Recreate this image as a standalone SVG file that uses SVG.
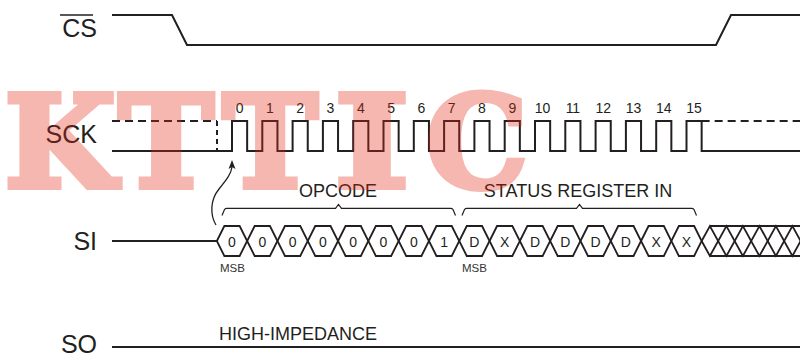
<svg xmlns="http://www.w3.org/2000/svg" width="800" height="354" viewBox="0 0 800 354">
<style>
.sig{fill:none;stroke:#231f20;stroke-width:2}
.dash{fill:none;stroke:#231f20;stroke-width:2;stroke-dasharray:8 5}
.hex{fill:none;stroke:#231f20;stroke-width:1.8;stroke-linejoin:miter}
.brace{fill:none;stroke:#231f20;stroke-width:1.2}
.lbl{font-family:"Liberation Sans",Arial,sans-serif;font-size:25px;fill:#231f20;text-anchor:end}
.num{font-family:"Liberation Sans",Arial,sans-serif;font-size:14px;fill:#231f20;text-anchor:middle}
.bit{font-family:"Liberation Sans",Arial,sans-serif;font-size:14px;fill:#231f20;text-anchor:middle}
.cap{font-family:"Liberation Sans",Arial,sans-serif;font-size:18px;fill:#231f20;text-anchor:middle}
.msb{font-family:"Liberation Sans",Arial,sans-serif;font-size:11.5px;fill:#333;text-anchor:middle}
.wm{font-family:"DejaVu Serif",serif;font-weight:bold;font-size:128px;fill:#e12814;stroke:#e12814;stroke-width:6;stroke-linejoin:miter;text-anchor:middle}
</style>
<rect width="800" height="354" fill="#fff"/>
<g id="labels">
<text class="lbl" x="97" y="37">CS</text>
<line x1="60" y1="15" x2="93" y2="15" stroke="#231f20" stroke-width="1.6"/>
<text class="lbl" x="97" y="143">SCK</text>
<text class="lbl" x="97" y="250">SI</text>
<text class="lbl" x="97" y="353">SO</text>
</g>
<g id="cs">
<path class="sig" d="M112 15 H172 L187 45 H716 L731 15 H800"/>
</g>
<g id="sck">
<path class="dash" d="M112 121 H217"/>
<path fill="none" stroke="#231f20" stroke-width="2" stroke-dasharray="5 4" d="M217 121 V151"/>
<path class="sig" d="M112 151 H232 V121 H247.15 V151 H262.3 V121 H277.45 V151 H292.6 V121 H307.75 V151 H322.9 V121 H338.05 V151 H353.2 V121 H368.35 V151 H383.5 V121 H398.65 V151 H413.8 V121 H428.95 V151 H444.1 V121 H459.25 V151 H474.4 V121 H489.55 V151 H504.7 V121 H519.85 V151 H535 V121 H550.15 V151 H565.3 V121 H580.45 V151 H595.6 V121 H610.75 V151 H625.9 V121 H641.05 V151 H656.2 V121 H671.35 V151 H686.5 V121 H701.65 V151 H800"/>
<path class="dash" d="M701.65 121 H800"/>
<text class="num" x="239.6" y="113">0</text>
<text class="num" x="269.9" y="113">1</text>
<text class="num" x="300.2" y="113">2</text>
<text class="num" x="330.5" y="113">3</text>
<text class="num" x="360.8" y="113">4</text>
<text class="num" x="391.1" y="113">5</text>
<text class="num" x="421.4" y="113">6</text>
<text class="num" x="451.7" y="113">7</text>
<text class="num" x="482" y="113">8</text>
<text class="num" x="512.3" y="113">9</text>
<text class="num" x="542.6" y="113">10</text>
<text class="num" x="572.9" y="113">11</text>
<text class="num" x="603.2" y="113">12</text>
<text class="num" x="633.5" y="113">13</text>
<text class="num" x="663.8" y="113">14</text>
<text class="num" x="694.1" y="113">15</text>
</g>
<g id="si">
<path class="sig" d="M112 241 H217"/>
<polygon class="hex" points="216.85,241 224.35,226 239.65,226 247.15,241 239.65,256 224.35,256"/>
<polygon class="hex" points="247.15,241 254.65,226 269.95,226 277.45,241 269.95,256 254.65,256"/>
<polygon class="hex" points="277.45,241 284.95,226 300.25,226 307.75,241 300.25,256 284.95,256"/>
<polygon class="hex" points="307.75,241 315.25,226 330.55,226 338.05,241 330.55,256 315.25,256"/>
<polygon class="hex" points="338.05,241 345.55,226 360.85,226 368.35,241 360.85,256 345.55,256"/>
<polygon class="hex" points="368.35,241 375.85,226 391.15,226 398.65,241 391.15,256 375.85,256"/>
<polygon class="hex" points="398.65,241 406.15,226 421.45,226 428.95,241 421.45,256 406.15,256"/>
<polygon class="hex" points="428.95,241 436.45,226 451.75,226 459.25,241 451.75,256 436.45,256"/>
<polygon class="hex" points="459.25,241 466.75,226 482.05,226 489.55,241 482.05,256 466.75,256"/>
<polygon class="hex" points="489.55,241 497.05,226 512.35,226 519.85,241 512.35,256 497.05,256"/>
<polygon class="hex" points="519.85,241 527.35,226 542.65,226 550.15,241 542.65,256 527.35,256"/>
<polygon class="hex" points="550.15,241 557.65,226 572.95,226 580.45,241 572.95,256 557.65,256"/>
<polygon class="hex" points="580.45,241 587.95,226 603.25,226 610.75,241 603.25,256 587.95,256"/>
<polygon class="hex" points="610.75,241 618.25,226 633.55,226 641.05,241 633.55,256 618.25,256"/>
<polygon class="hex" points="641.05,241 648.55,226 663.85,226 671.35,241 663.85,256 648.55,256"/>
<polygon class="hex" points="671.35,241 678.85,226 694.15,226 701.65,241 694.15,256 678.85,256"/>
<polyline class="hex" points="701.65,241 709.9,226 726.4,256 742.9,226 759.4,256 775.9,226 792.4,256 808.9,226"/>
<polyline class="hex" points="701.65,241 709.9,256 726.4,226 742.9,256 759.4,226 775.9,256 792.4,226 808.9,256"/>
<path class="hex" d="M709.9 226 H800 M709.9 256 H800"/>
<text class="bit" x="232" y="247">0</text>
<text class="bit" x="262.3" y="247">0</text>
<text class="bit" x="292.6" y="247">0</text>
<text class="bit" x="322.9" y="247">0</text>
<text class="bit" x="353.2" y="247">0</text>
<text class="bit" x="383.5" y="247">0</text>
<text class="bit" x="413.8" y="247">0</text>
<text class="bit" x="444.1" y="247">1</text>
<text class="bit" x="474.4" y="247">D</text>
<text class="bit" x="504.7" y="247">X</text>
<text class="bit" x="535" y="247">D</text>
<text class="bit" x="565.3" y="247">D</text>
<text class="bit" x="595.6" y="247">D</text>
<text class="bit" x="625.9" y="247">D</text>
<text class="bit" x="656.2" y="247">X</text>
<text class="bit" x="686.5" y="247">X</text>
<text class="msb" x="232.5" y="272">MSB</text>
<text class="msb" x="474.4" y="272">MSB</text>
</g>
<g id="braces">
<path class="brace" d="M222 215.5 L224.5 209.5 Q225.3 208.3 227 208.3 L335.5 208.3 L338.5 204.5 L341.5 208.3 L450.5 208.3 Q452.2 208.3 453 209.5 L455.5 215.5"/>
<text class="cap" x="338" y="197">OPCODE</text>
<path class="brace" d="M462 215.5 L464.5 209.5 Q465.3 208.3 467 208.3 L576.5 208.3 L579.5 204.5 L582.5 208.3 L691.5 208.3 Q693.2 208.3 694 209.5 L696.5 215.5"/>
<text class="cap" x="578" y="197">STATUS REGISTER IN</text>
</g>
<g id="connectors">
<path fill="none" stroke="#231f20" stroke-width="1.3" d="M216 225 C 210 215, 210 200, 219 189 C 227 179, 231 174, 232 167"/>
<polygon fill="#231f20" points="232,160 235.5,169 232,167 228.5,169"/>
</g>
<g id="so">
<path class="sig" d="M112 347 H800"/>
<text class="cap" x="298" y="340">HIGH-IMPEDANCE</text>
</g>
<g id="watermark" opacity="0.33">
<text class="wm" x="60" y="187">K</text>
<text class="wm" x="166" y="187">T</text>
<text class="wm" x="270" y="187">T</text>
<text class="wm" transform="translate(372 0) scale(1.25 1) translate(-372 0)" x="372" y="187">I</text>
<text class="wm" x="477" y="187">C</text>
</g>
</svg>
